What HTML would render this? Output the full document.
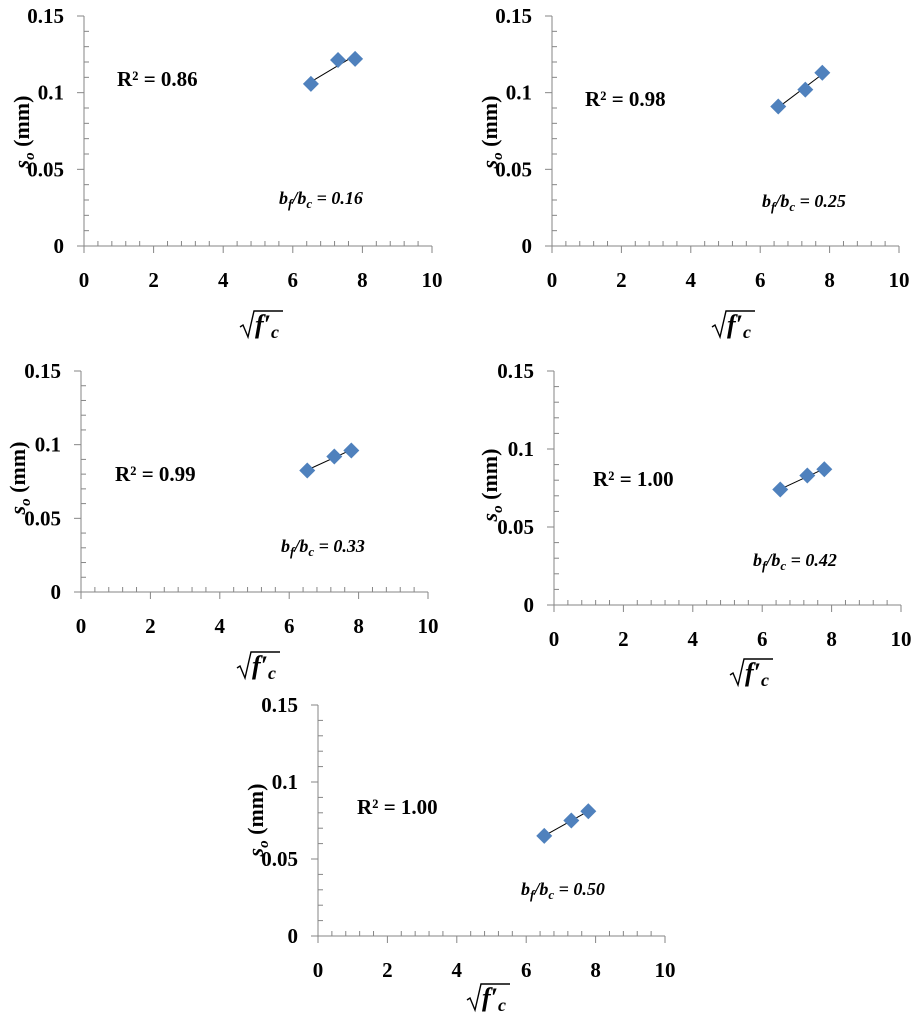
<!DOCTYPE html>
<html><head><meta charset="utf-8"><style>
html,body{margin:0;padding:0;background:#fff;}
#wrap{position:relative;width:920px;height:1019px;overflow:hidden;}
svg{position:absolute;left:0;top:0;}
text{font-family:"Liberation Serif",serif;}
</style></head><body>
<div id="wrap">
<svg id="svg" width="920" height="1019" viewBox="0 0 920 1019"></svg>
</div>
<script>
// data
const xVals = [6.52, 7.30, 7.79];
const ySeries1 = [0.1057, 0.1213, 0.1220];
const ySeries2 = [0.0910, 0.1020, 0.1130];
const ySeries3 = [0.0825, 0.0920, 0.0960];
const ySeries4 = [0.0740, 0.0830, 0.0870];
const ySeries5 = [0.0650, 0.0750, 0.0810];
const r2Labels = ["R² = 0.86","R² = 0.98","R² = 0.99","R² = 1.00","R² = 1.00"];
const ratioLabels = ["0.16","0.25","0.33","0.42","0.50"];
const xTicks = [0,2,4,6,8,10];
const yTicks = [0,0.05,0.1,0.15];
const yTickLabels = ["0","0.05","0.1","0.15"];
const xTickLabels = ["0","2","4","6","8","10"];
const allSeries = [ySeries1,ySeries2,ySeries3,ySeries4,ySeries5];

// layout (pixels)
const panels = [
 {x0:84,x1:432,y0:246,y1:16,r2:[117,79],rt:[281,198],yt:[22,132],xt:[240,337]},
 {x0:552,x1:899,y0:246,y1:16,r2:[585,99],rt:[764,201],yt:[490,132],xt:[712,337]},
 {x0:81,x1:428,y0:592,y1:371,r2:[115,474],rt:[283,546],yt:[18,478],xt:[237,678]},
 {x0:554,x1:901,y0:605,y1:371,r2:[593,479],rt:[755,560],yt:[490,485],xt:[730,685]},
 {x0:318,x1:665,y0:936,y1:705,r2:[357,807],rt:[523,889],yt:[256,820],xt:[467,1010]}
];
const NS="http://www.w3.org/2000/svg";
const svg=document.getElementById('svg');
function mk(tag,attrs,parent){const e=document.createElementNS(NS,tag);for(const k in attrs)e.setAttribute(k,attrs[k]);(parent||svg).appendChild(e);return e;}

panels.forEach((p,i)=>{
  const g=mk('g',{});
  
  
  const sx=v=>p.x0+(v-0)/(10-0)*(p.x1-p.x0);
  const sy=v=>p.y0-(v-0)/(0.15)*(p.y0-p.y1);
  const ax='#868686';
  const ya=mk('line',{x1:p.x0,y1:p.y1,x2:p.x0,y2:p.y0,stroke:ax,'stroke-width':1},g);
  
  
  const xa=mk('line',{x1:p.x0-7,y1:p.y0,x2:p.x1,y2:p.y0,stroke:ax,'stroke-width':1},g);
  
  
  for(let k=1;k<15;k++){ if(k%5===0) continue; const y=sy(k*0.01); mk('line',{x1:p.x0,y1:y,x2:p.x0+5,y2:y,stroke:ax},g);}
  for(let k=1;k<25;k++){ if(k%5===0) continue; const x=sx(k*0.4); mk('line',{x1:x,y1:p.y0,x2:x,y2:p.y0-5,stroke:ax},g);}
  yTicks.forEach((v,j)=>{
    const y=sy(v);
    mk('line',{x1:p.x0-7,y1:y,x2:p.x0,y2:y,stroke:ax},g);
    const t=mk('text',{x:p.x0-20,y:y+7,'text-anchor':'end','font-size':21,'font-weight':'bold'},g);
    t.textContent=yTickLabels[j];
    
    
  });
  xTicks.forEach((v,j)=>{
    const x=sx(v);
    mk('line',{x1:x,y1:p.y0,x2:x,y2:p.y0+7,stroke:ax},g);
    const t=mk('text',{x:x,y:p.y0+41,'text-anchor':'middle','font-size':21,'font-weight':'bold'},g);
    t.textContent=xTickLabels[j];
    
    
  });
  const ys=allSeries[i];
  const n=xVals.length;
  const mx=xVals.reduce((a,b)=>a+b)/n, my=ys.reduce((a,b)=>a+b)/n;
  let sxy=0,sxx=0; for(let k=0;k<n;k++){sxy+=(xVals[k]-mx)*(ys[k]-my);sxx+=(xVals[k]-mx)**2;}
  const m=sxy/sxx,b=my-m*mx;
  const xa0=Math.min(...xVals),xa1=Math.max(...xVals);
  const tl=mk('line',{x1:sx(xa0),y1:sy(m*xa0+b),x2:sx(xa1),y2:sy(m*xa1+b),stroke:'#000','stroke-width':1},g);
  
  
  xVals.forEach((xv,k)=>{
    const cx=sx(xv),cy=sy(ys[k]),r=8;
    const d=mk('polygon',{points:`${cx},${cy-r} ${cx+r},${cy} ${cx},${cy+r} ${cx-r},${cy}`,fill:'#4f81bd'},g);
    
    
  });
  const r2=mk('text',{x:p.r2[0],y:p.r2[1]+7,'font-size':21,'font-weight':'bold'},g);
  r2.textContent=r2Labels[i];
  
  
  const rt=mk('text',{x:p.rt[0]-2,y:p.rt[1]+6,'font-size':18,'font-weight':'bold','font-style':'italic'},g);
  rt.innerHTML=`b<tspan dy="4" font-size="13">f</tspan><tspan dy="-4">/b</tspan><tspan dy="4" font-size="13">c</tspan><tspan dy="-4"> = ${ratioLabels[i]}</tspan>`;
  
  
  const yt=mk('text',{x:0,y:0,'font-size':22,'font-weight':'bold','text-anchor':'middle',transform:`translate(${p.yt[0]+7},${p.yt[1]}) rotate(-90)`},g);
  yt.innerHTML=`<tspan font-style="italic">s</tspan><tspan font-style="italic" font-size="15" dy="5">o</tspan><tspan dy="-5"> (mm)</tspan>`;
  
  
  const xg=mk('g',{},g);
  
  
  const X=p.xt[0],Y=p.xt[1];
  mk('path',{d:`M${X},${Y-10} L${X+3},${Y-12} L${X+8},${Y} L${X+14},${Y-26} L${X+43},${Y-26}`,fill:'none',stroke:'#000','stroke-width':1.4},xg);
  const xt=mk('text',{x:X+15,y:Y-4,'font-size':26,'font-weight':'bold','font-style':'italic'},xg);
  xt.innerHTML=`f′<tspan font-size="18" dy="5">c</tspan>`;
});
</script>
</body></html>
